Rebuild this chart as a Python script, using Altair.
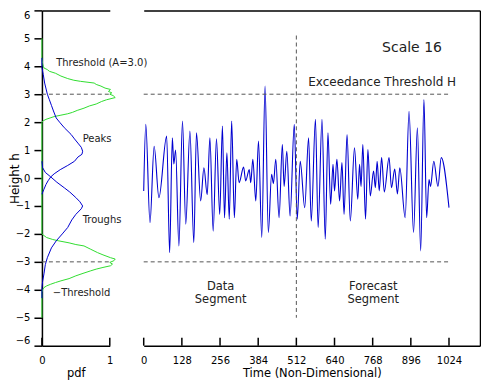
import altair as alt
import pandas as pd

# ---------------- data ----------------
# Scale-16 time series: successive extremes (time, height)
ts_time = [0, 7, 21, 35, 51, 77, 87, 96, 101, 107,
           118, 130, 141, 155, 168, 177, 191, 202, 213, 222,
           233, 244, 255, 264, 271, 279, 287, 295, 304, 312,
           320, 335, 342, 354, 359, 366, 376, 385, 396, 407,
           418, 429, 435, 443, 454, 465, 471, 480, 491, 505,
           515, 525, 540, 553, 562, 576, 585, 598, 609, 618,
           627, 635, 640, 648, 657, 665, 672, 682, 693, 707,
           718, 724, 729, 735, 744, 752, 760, 771, 777, 783,
           790, 798, 807, 823, 831, 842, 851, 859, 877, 890,
           905, 918, 929, 940, 949, 957, 962, 973, 987, 998,
           1024]
ts_height = [-0.46, 1.92, -1.6, 1.14, -0.7, 1.5, -2.67, 1.44, 0.5, 1.0,
             -2.43, 2.04, -1.65, 1.68, -2.31, 1.62, -0.82, 0.37, -0.6, 1.44,
             -1.9, 1.4, -1.3, 1.86, -1.42, 0.9, -1.47, 2.04, -1.42, 0.67,
             -0.17, 0.39, -0.1, 0.3, -0.17, 0.67, -0.82, 1.32, -2.13, 3.29,
             -1.95, 0.13, -0.2, 0.67, -1.42, 1.2, -0.3, 0.96, -1.36, 1.92,
             -1.47, 0.6, -1.06, 1.44, -1.54, 2.1, -1.77, 2.1, -2.19, 1.62,
             -0.94, 0.49, -0.46, 0.67, -0.82, 0.55, -1.3, 1.56, -1.54, 1.08,
             -0.76, 0.49, -0.3, 1.2, -1.47, 1.02, -0.64, 0.25, -0.35, 0.6,
             -0.46, 0.73, -0.5, 0.73, -0.35, 0.32, -0.57, 0.37, -1.42, 2.39,
             -1.95, 1.8, -2.61, 2.81, -1.42, -0.05, -0.3, 0.6, -0.3, 0.73,
             -1.06]

# pdf of peaks
peaks_h = [4.3, 3.95, 3.7, 3.4, 3.0, 2.8, 2.6, 2.4, 2.15, 2.0,
           1.8, 1.56, 1.4, 1.25, 1.1, 0.96, 0.85, 0.75, 0.6, 0.45,
           0.3, 0.15, 0.04, -0.1, -0.23, -0.4, -0.58]
peaks_pdf = [0, 0, 0.02, 0.04, 0.08, 0.11, 0.14, 0.17, 0.21, 0.26,
             0.33, 0.43, 0.48, 0.53, 0.58, 0.6, 0.59, 0.53, 0.48, 0.38,
             0.27, 0.18, 0.13, 0.09, 0.06, 0.03, 0.0]

# pdf of troughs
troughs_h = [0.6, 0.37, 0.2, 0.04, -0.15, -0.35, -0.5, -0.7, -0.85, -1.0,
             -1.1, -1.3, -1.5, -1.77, -2.0, -2.25, -2.5, -2.85, -3.1, -3.43,
             -3.7, -3.92, -4.3]
troughs_pdf = [0, 0.01, 0.05, 0.13, 0.22, 0.33, 0.41, 0.5, 0.56, 0.6,
               0.58, 0.5, 0.44, 0.38, 0.3, 0.21, 0.14, 0.08, 0.05, 0.03,
               0.01, 0, 0]

# pdf of threshold exceedances (+/- A = 3.0)
thr_h = [5.0, 4.3, 4.1, 4.0, 3.94, 3.88, 3.82, 3.75, 3.65, 3.56,
         3.5, 3.46, 3.4, 3.35, 3.29, 3.22, 3.17, 3.1, 3.05, 3.0,
         2.95, 2.88, 2.8, 2.74, 2.65, 2.58, 2.5, 2.42, 2.35, 2.3,
         2.25, 2.2, 2.15, 2.1, 2.05, 2.0, -2.0, -2.06, -2.13, -2.2,
         -2.25, -2.32, -2.38, -2.43, -2.55, -2.67, -2.75, -2.85, -2.9, -2.96,
         -3.02, -3.08, -3.14, -3.2, -3.26, -3.32, -3.4, -3.5, -3.6, -3.68,
         -3.74, -3.8, -3.86, -3.92, -4.0, -4.1, -5.0]
thr_pdf = [0, 0, 0.01, 0.02, 0.03, 0.08, 0.11, 0.2, 0.28, 0.38,
           0.47, 0.57, 0.77, 0.8, 0.87, 0.93, 1.01, 0.98, 1.03, 1.0,
           1.05, 1.08, 0.95, 0.88, 0.8, 0.7, 0.62, 0.52, 0.45, 0.38,
           0.28, 0.18, 0.12, 0.06, 0.02, 0, 0, 0.03, 0.07, 0.16,
           0.25, 0.4, 0.5, 0.62, 0.72, 0.82, 0.9, 1.01, 1.08, 1.06,
           1.0, 1.04, 1.01, 0.9, 0.8, 0.72, 0.62, 0.5, 0.4, 0.28,
           0.2, 0.13, 0.07, 0.03, 0.01, 0, 0]

threshold = [3.0, -3.0]
time_ticks = [0, 128, 256, 384, 512, 640, 768, 896, 1024]
pdf_ticks = [0, 1]
height_ticks = list(range(-6, 7))
split_time = [512]

# ---------------- styling ----------------
BLUE = "#0000d0"
GREEN = "#30dd30"
DASH = "#555555"
TXT = "#222222"
FONT = "DejaVu Sans"

Y = alt.Scale(domain=[-6, 6], nice=False, zero=False)
XL = alt.Scale(domain=[0, 1], nice=False, zero=False)
XR = alt.Scale(domain=[0, 1128], nice=False, zero=False)

top_axis = alt.Axis(orient="top", labels=False, ticks=False, domain=True, title=None, grid=False)

# ---------------- left panel: pdfs ----------------
thr_df = pd.DataFrame({"h": thr_h, "pdf": thr_pdf, "i": range(len(thr_h))})
pk_df = pd.DataFrame({"h": peaks_h, "pdf": peaks_pdf, "i": range(len(peaks_h))})
tr_df = pd.DataFrame({"h": troughs_h, "pdf": troughs_pdf, "i": range(len(troughs_h))})

green = alt.Chart(thr_df).mark_line(color=GREEN, strokeWidth=1).encode(
    x=alt.X("pdf:Q", scale=XL,
            axis=alt.Axis(orient="bottom", values=pdf_ticks, ticks=False, tickSize=0,
                          labelPadding=9.5, labelFlush=False, title="pdf", titleFontSize=11.5,
                          titleY=21.5, format="d", grid=False)),
    y=alt.Y("h:Q", scale=Y,
            axis=alt.Axis(orient="left", values=height_ticks, tickSize=8, labelPadding=4,
                          labelFlush=True, labelFlushOffset=0, format="d",
                          title="Height h", titleFontSize=12, titleX=-20, grid=False)),
    order=alt.Order("i:Q"),
)
peaks = alt.Chart(pk_df).mark_line(color=BLUE, strokeWidth=1).encode(
    x=alt.X("pdf:Q", scale=XL, axis=None),
    y=alt.Y("h:Q", scale=Y, axis=None),
    order=alt.Order("i:Q"),
)
troughs = alt.Chart(tr_df).mark_line(color=BLUE, strokeWidth=1).encode(
    x=alt.X("pdf:Q", scale=XL, axis=None),
    y=alt.Y("h:Q", scale=Y, axis=None),
    order=alt.Order("i:Q"),
)
left_thr = alt.Chart(pd.DataFrame({"h": threshold})).mark_rule(
    color=DASH, strokeDash=[4, 3], strokeWidth=1).encode(
    x=alt.XDatum(0, scale=XL, axis=top_axis),
    x2=alt.X2Datum(1),
    y=alt.Y("h:Q", scale=Y, axis=None),
)
left_ticks = alt.Chart(pd.DataFrame({"p": pdf_ticks})).mark_rule(
    color="black", strokeWidth=1.5).encode(
    x=alt.X("p:Q", scale=XL, axis=None),
    y=alt.YDatum(-6, scale=Y, axis=None),
    y2=alt.Y2Datum(-5.714),
)

def label(txt, x, y, scale_x, size, align="left"):
    return alt.Chart(pd.DataFrame({"label": [txt]})).mark_text(
        align=align, baseline="middle", fontSize=size, color=TXT, font=FONT).encode(
        x=alt.XDatum(x, scale=scale_x, axis=None),
        y=alt.YDatum(y, scale=Y, axis=None),
        text="label:N",
    )

left = alt.layer(
    green, peaks, troughs, left_thr, left_ticks,
    label("Threshold (A=3.0)", 0.21, 4.11, XL, 10),
    label("Peaks", 0.6, 1.40, XL, 10),
    label("Troughs", 0.6, -1.5, XL, 10),
    label("\u2212Threshold", 0.16, -4.1, XL, 10),
).resolve_axis(x="independent", y="independent").properties(width=68, height=336)

# ---------------- right panel: time series ----------------
ts_df = pd.DataFrame({"t": ts_time, "h": ts_height})

series = alt.Chart(ts_df).mark_line(color=BLUE, strokeWidth=1.1, interpolate="monotone").encode(
    x=alt.X("t:Q", scale=XR,
            axis=alt.Axis(orient="bottom", values=time_ticks, ticks=False, tickSize=0,
                          labelPadding=9.5, labelFlush=False, title="Time (Non-Dimensional)",
                          titleFontSize=11.5, titleY=21.5, format="d", grid=False)),
    y=alt.Y("h:Q", scale=Y,
            axis=alt.Axis(orient="right", values=height_ticks, labels=False, ticks=False,
                          title=None, grid=False)),
)
right_thr = alt.Chart(pd.DataFrame({"h": threshold})).mark_rule(
    color=DASH, strokeDash=[4, 3], strokeWidth=1).encode(
    x=alt.XDatum(0, scale=XR, axis=top_axis),
    x2=alt.X2Datum(1024),
    y=alt.Y("h:Q", scale=Y, axis=None),
)
split = alt.Chart(pd.DataFrame({"t": split_time})).mark_rule(
    color=DASH, strokeDash=[4, 3], strokeWidth=1).encode(
    x=alt.X("t:Q", scale=XR, axis=None),
    y=alt.YDatum(5.1, scale=Y, axis=None),
    y2=alt.Y2Datum(-5.0),
)
right_ticks = alt.Chart(pd.DataFrame({"t": time_ticks})).mark_rule(
    color="black", strokeWidth=1.5).encode(
    x=alt.X("t:Q", scale=XR, axis=None),
    y=alt.YDatum(-6, scale=Y, axis=None),
    y2=alt.Y2Datum(-5.714),
)

right = alt.layer(
    series, right_thr, split, right_ticks,
    label("Scale 16", 900, 4.64, XR, 14, "center"),
    label("Exceedance Threshold H", 800, 3.43, XR, 12, "center"),
    label("Data", 258, -3.89, XR, 11.5, "center"),
    label("Segment", 258, -4.36, XR, 11.5, "center"),
    label("Forecast", 770, -3.89, XR, 11.5, "center"),
    label("Segment", 770, -4.36, XR, 11.5, "center"),
).resolve_axis(x="independent", y="independent").properties(width=337, height=336)

chart = alt.hconcat(left, right, spacing=34, bounds="flush").properties(
    padding={"left": 0, "top": 0, "right": 0, "bottom": 0}
).configure_view(stroke="transparent").configure_axis(
    domainColor="black", domainWidth=1.5, tickColor="black", tickWidth=1.5,
    labelFont=FONT, titleFont=FONT, labelFontSize=10, labelColor="black",
    titleColor="black", titleFontWeight="normal",
)

chart.save("out.html", embed_options={"renderer": "svg", "actions": False})
